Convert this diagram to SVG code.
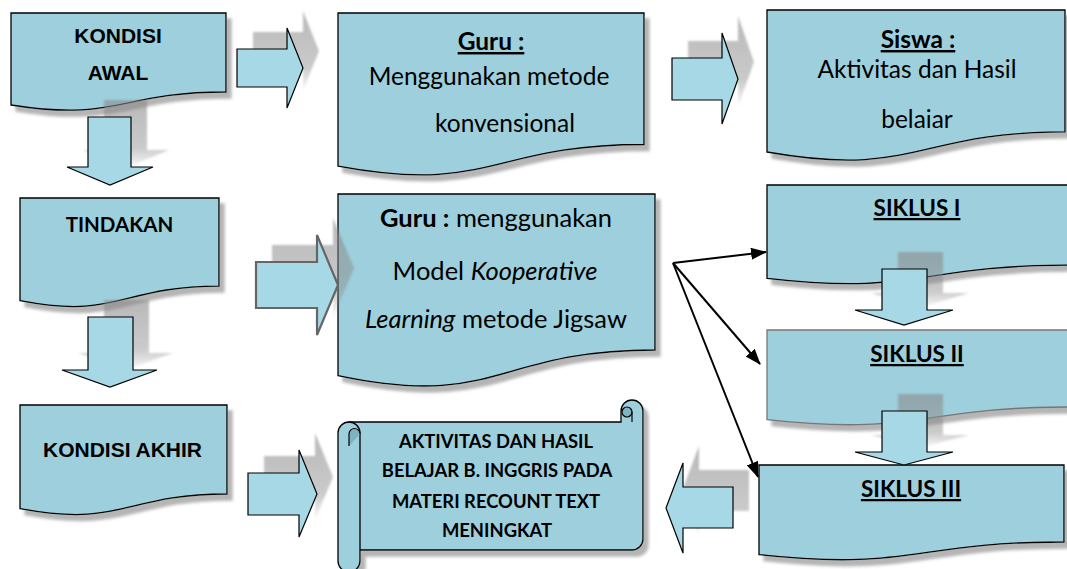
<svg xmlns="http://www.w3.org/2000/svg" width="1067" height="569" viewBox="0 0 1067 569">
<defs>
<filter id="ds" x="-10%" y="-10%" width="130%" height="140%">
<feDropShadow dx="5" dy="6" stdDeviation="1.5" flood-color="#777" flood-opacity="0.55"/>
</filter>
<filter id="blur" x="-20%" y="-20%" width="140%" height="140%">
<feGaussianBlur stdDeviation="1.2"/>
</filter>
<linearGradient id="shg" x1="0" y1="0" x2="0" y2="1">
<stop offset="0" stop-color="#8a8a8a" stop-opacity="0.6"/>
<stop offset="0.7" stop-color="#8a8a8a" stop-opacity="0.45"/>
<stop offset="1" stop-color="#8a8a8a" stop-opacity="0.05"/>
</linearGradient>
<marker id="ah" markerUnits="userSpaceOnUse" markerWidth="16" markerHeight="12" refX="15" refY="6" orient="auto">
<path d="M0,0 L16,6 L0,12 Z" fill="#000"/>
</marker>
<style>
.box{fill:#9ecfdc;stroke:#000;stroke-width:1.3;filter:url(#ds)}
.box2{fill:#9ecfdc;stroke:#777;stroke-width:1.3;filter:url(#ds)}
.arr{fill:#a6d8e5;stroke:#000;stroke-width:1.2}
.arrg{fill:#a6d8e5;stroke:#666;stroke-width:2.2}
.sh{fill:url(#shg);filter:url(#blur)}
.ar{font-family:"Liberation Sans",Arial,sans-serif;font-weight:bold;font-size:21px;fill:#000;text-anchor:middle}
.cal{font-family:Lato,"Open Sans",sans-serif;font-size:24.5px;fill:#000;text-anchor:middle}
.cal2{font-family:Lato,"Open Sans",sans-serif;font-size:25.5px;fill:#000;text-anchor:middle}
.calb{font-family:Lato,"Open Sans",sans-serif;font-weight:bold;fill:#000;text-anchor:middle}
.u{text-decoration:underline}
.con{stroke:#000;stroke-width:2;fill:none;marker-end:url(#ah)}
</style>
</defs>
<rect width="1067" height="569" fill="#fff"/>

<g id="kondisi-awal">
<path class="box" d="M11,13 H226 V92 C118.5,92 118.5,122 11,105 Z"/>
<text class="ar" x="118" y="43">KONDISI</text>
<text class="ar" x="118" y="80">AWAL</text>
</g>

<g id="guru-1">
<path class="box" d="M338,13 H644 V144.5 C491,144.5 491,194.6 338,166.2 Z"/>
<text class="calb u" x="491" y="50" font-size="24.5">Guru :</text>
<text class="cal" x="489" y="85">Menggunakan metode</text>
<text class="cal" x="505" y="132">konvensional</text>
</g>

<g id="siswa">
<path class="box" d="M767,10 H1065 V131.9 C916,131.9 916,178.3 767,152 Z"/>
<text class="calb u" x="918" y="48" font-size="24.5">Siswa :</text>
<text class="cal" x="917" y="78">Aktivitas dan Hasil</text>
<text class="cal" x="917" y="128">belaiar</text>
</g>

<g id="tindakan">
<path class="box" d="M20,198 H219 V286.2 C119.5,286.2 119.5,319.8 20,300.7 Z"/>
<text class="calb" x="119.5" y="232" font-size="20.5">TINDAKAN</text>
</g>

<g id="guru-2">
<path class="box" d="M338,194 H655 V350 C496.5,350 496.5,409.4 338,375.7 Z"/>
<text class="cal2" x="496" y="227"><tspan font-weight="bold">Guru :</tspan> menggunakan</text>
<text class="cal2" x="495" y="280">Model <tspan font-style="italic">Kooperative</tspan></text>
<text class="cal2" x="496" y="328"><tspan font-style="italic">Learning</tspan> metode Jigsaw</text>
</g>

<g id="siklus-1">
<path class="box" d="M767,185 H1069 V265.2 C918,265.2 918,295.75 767,278.4 Z"/>
<text class="calb u" x="917" y="216" font-size="22.5">SIKLUS I</text>
</g>

<g id="siklus-2">
<path class="box2" d="M767,330 H1069 V407 C918,407 918,436.3 767,419.7 Z"/>
<text class="calb u" x="917" y="362" font-size="22.5">SIKLUS II</text>
</g>

<g id="siklus-3">
<path class="box" d="M759,465 H1064 V542 C911.5,542 911.5,571.3 759,554.7 Z"/>
<text class="calb u" x="911" y="497" font-size="22.5">SIKLUS III</text>
</g>

<g id="kondisi-akhir">
<path class="box" d="M20,405 H227 V494 C123.5,494 123.5,527.9 20,508.7 Z"/>
<text class="ar" x="122.5" y="457">KONDISI AKHIR</text>
</g>

<g id="hasil-scroll">
<g filter="url(#ds)">
<path fill="#9ecfdc" stroke="#000" stroke-width="1.3" d="M349,422 H621 V411 A11,11 0 0 1 643,411 V539 A11,11 0 0 1 632,550 H349 Z"/>
<path fill="#9ecfdc" stroke="#000" stroke-width="1.3" d="M338,433 A11,11 0 0 1 360,433 V561 A11,11 0 0 1 338,561 Z"/>
</g>
<circle cx="627" cy="412" r="5" fill="#7fb3c2" stroke="#000" stroke-width="1.2"/>
<line x1="632" y1="412" x2="632" y2="422" stroke="#000" stroke-width="1.2"/>
<path d="M349,446 V434 A5.5,5.5 0 0 1 360,434" fill="#7fb3c2" stroke="#000" stroke-width="1.2"/>
<text class="calb" x="496" y="448" font-size="18.4">AKTIVITAS DAN HASIL</text>
<text class="calb" x="497" y="477" font-size="18.4">BELAJAR B. INGGRIS PADA</text>
<text class="calb" x="496" y="508" font-size="18.4">MATERI RECOUNT TEXT</text>
<text class="calb" x="497" y="537" font-size="18.4">MENINGKAT</text>
</g>

<g id="block-arrows">
<g transform="translate(16,-17)">
<polygon class="sh" points="237,49 287,49 287,28 303,68 287,108 287,87 237,87"/>
<polygon class="sh" points="672,58 722,58 722,33 738,79 722,124 722,100 672,100"/>
<polygon class="sh" points="256,262 317,262 317,235 338,285 317,335 317,308 256,308"/>
<polygon class="sh" points="88,117 131,117 131,167 153,167 110,185 67,167 88,167"/>
<polygon class="sh" points="88,317 133,317 133,370 157,370 110,387 62,370 88,370"/>
<polygon class="sh" points="882,269 927,269 927,310 953,310 904,325 855,310 882,310"/>
<polygon class="sh" points="882,411 927,411 927,452 953,452 904,465 855,452 882,452"/>
<polygon class="sh" points="248,473 299,473 299,450 317,494 299,537 299,515 248,515"/>
<polygon class="sh" points="733,487 683,487 683,463 666,508 683,553 683,528 733,528"/>
</g>
<polygon class="arr" points="237,49 287,49 287,28 303,68 287,108 287,87 237,87"/>
<polygon class="arr" points="672,58 722,58 722,33 738,79 722,124 722,100 672,100"/>
<polygon class="arrg" points="256,262 317,262 317,235 338,285 317,335 317,308 256,308"/>
<polygon class="arr" points="88,117 131,117 131,167 153,167 110,185 67,167 88,167"/>
<polygon class="arr" points="88,317 133,317 133,370 157,370 110,387 62,370 88,370"/>
<polygon class="arr" points="882,269 927,269 927,310 953,310 904,325 855,310 882,310"/>
<polygon class="arr" points="882,411 927,411 927,452 953,452 904,465 855,452 882,452"/>
<polygon class="arr" points="248,473 299,473 299,450 317,494 299,537 299,515 248,515"/>
<polygon class="arr" points="733,487 683,487 683,463 666,508 683,553 683,528 733,528"/>
</g>

<g id="connectors">
<line class="con" x1="673" y1="263" x2="766" y2="252"/>
<line class="con" x1="673" y1="263" x2="760" y2="364"/>
<line class="con" x1="673" y1="263" x2="758" y2="477"/>
</g>
</svg>
